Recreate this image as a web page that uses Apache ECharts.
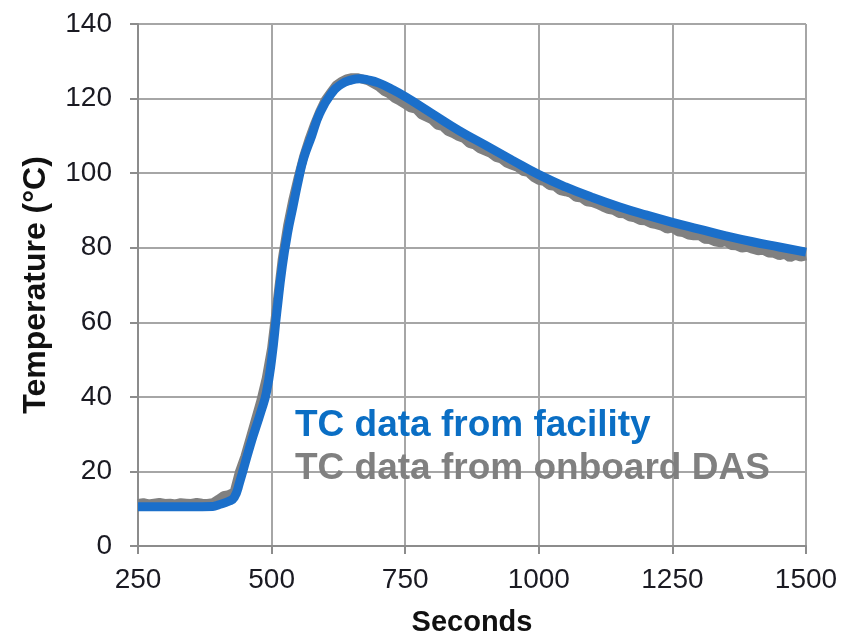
<!DOCTYPE html>
<html>
<head>
<meta charset="utf-8">
<script src="https://cdn.jsdelivr.net/npm/echarts@6/dist/echarts.min.js"></script>
<style>
  html, body { margin: 0; padding: 0; background: #fff; }
  #chart { width: 852px; height: 642px; }
</style>
</head>
<body>
<div id="chart"></div>
<script>
// TC data from facility (smooth curve)
var facility_s = [250, 300, 350, 390, 400, 420, 430, 440, 460, 480, 490, 500, 510, 520, 530, 540, 550, 560, 575, 590, 610, 630, 650, 665, 680, 700, 725, 750, 800, 850, 900, 950, 1000, 1050, 1100, 1150, 1200, 1250, 1300, 1350, 1400, 1450, 1500];
var facility_t = [10.5, 10.5, 10.5, 10.6, 11, 12, 13, 17, 27, 36, 41, 50, 63, 75, 84, 91, 98, 104, 110, 116, 121, 123.8, 125, 125.3, 125, 124.2, 122.5, 120.5, 116, 111.5, 107.5, 103.5, 99.6, 96.3, 93.5, 91, 88.8, 86.8, 85, 83.2, 81.6, 80.2, 78.8];

// TC data from onboard DAS (noisy), one reading every 10 s from 250 s
var das_start = 250;
var das_step = 10;
var das_t = [
    11.4, 11.6, 11.3, 11.5, 11.7, 11.4, 11.5, 11.3, 11.6, 11.5, 11.4, 11.7, 11.5, 11.4, 11.6,
    12.5, 13.5, 13.8, 14.5, 20, 24, 29, 34, 39, 45,
    53, 65, 77, 86, 93, 99, 104.5, 109, 113, 116.5,
    119.5, 121.5, 123.5, 124.5, 125.3, 125.6, 125.6, 125.2, 124.8, 124,
    123.2, 122, 121.3, 120.1, 119.3, 118.4, 117.5, 117.2, 115.7, 115.0,
    114.3, 112.9, 112.5, 111.2, 110.6, 109.8, 109.3, 108.0, 107.6, 106.5,
    105.9, 105.3, 104.2, 103.8, 102.7, 102.1, 101.6, 100.5, 100.2, 98.9,
    98.1, 97.8, 96.7, 96.5, 95.3, 95.0, 94.6, 93.5, 93.3, 92.3,
    92.1, 91.6, 90.9, 90.3, 90.0, 89.2, 89.1, 88.3, 88.0, 87.3,
    87.2, 86.5, 86.2, 85.8, 85.0, 85.3, 84.3, 84.1, 83.4, 83.2,
    83.3, 82.3, 82.2, 81.6, 81.3, 81.7, 80.6, 80.5, 79.9, 80.1,
    79.6, 79.2, 79.3, 78.6, 78.5, 77.9, 78.3, 77.3, 78.0, 77.5,
    77.8
];

var x_ticks = [250, 500, 750, 1000, 1250, 1500];
var y_ticks = [0, 20, 40, 60, 80, 100, 120, 140];

var font = "'Liberation Sans', Arial, sans-serif";

var facility_data = facility_s.map(function (s, i) { return [s, facility_t[i]]; });
var das_data = das_t.map(function (t, i) { return [das_start + i * das_step, t]; });

var chart = echarts.init(document.getElementById('chart'));

var option = {
    animation: false,
    backgroundColor: '#fff',
    grid: {
        left: 138,
        right: 46,
        top: 24,
        bottom: 94
    },
    legend: {
        orient: 'vertical',
        left: 290,
        top: 407,
        padding: 0,
        itemWidth: 0,
        itemHeight: 0,
        itemGap: 6,
        selectedMode: false,
        textStyle: {
            fontFamily: font,
            fontSize: 37,
            fontWeight: 'bold'
        },
        data: [
            { name: 'TC data from facility', icon: 'rect', textStyle: { color: '#0a6ec4' } },
            { name: 'TC data from onboard DAS', icon: 'rect', textStyle: { color: '#808080' } }
        ]
    },
    xAxis: {
        type: 'value',
        min: x_ticks[0],
        max: x_ticks[x_ticks.length - 1],
        interval: 250,
        name: 'Seconds',
        nameLocation: 'middle',
        nameGap: 62,
        nameTextStyle: { fontFamily: font, fontSize: 29, fontWeight: 'bold', color: '#111' },
        axisLine: { lineStyle: { color: '#8c8c8c', width: 2 } },
        axisTick: { show: true, length: 8, lineStyle: { color: '#8c8c8c', width: 2 } },
        axisLabel: {
            fontFamily: font, fontSize: 28, color: '#1a1a22', margin: 20,
            formatter: function (v) { return String(v); }
        },
        splitLine: { show: true, lineStyle: { color: '#a6a6a6', width: 2 } }
    },
    yAxis: {
        type: 'value',
        min: y_ticks[0],
        max: y_ticks[y_ticks.length - 1],
        interval: 20,
        name: 'Temperature (°C)',
        nameLocation: 'middle',
        nameGap: 86,
        nameTextStyle: { fontFamily: font, fontSize: 32, fontWeight: 'bold', color: '#111' },
        axisLine: { show: true, lineStyle: { color: '#8c8c8c', width: 2 } },
        axisTick: { show: true, length: 8, lineStyle: { color: '#8c8c8c', width: 2 } },
        axisLabel: { fontFamily: font, fontSize: 28, color: '#1a1a22', margin: 26 },
        splitLine: { show: true, lineStyle: { color: '#a6a6a6', width: 2 } }
    },
    series: [
        {
            name: 'TC data from onboard DAS',
            type: 'line',
            data: das_data,
            showSymbol: false,
            color: '#808080',
            lineStyle: { color: '#808080', width: 9 },
            z: 2
        },
        {
            name: 'TC data from facility',
            type: 'line',
            data: facility_data,
            smooth: true,
            showSymbol: false,
            color: '#1b6fca',
            lineStyle: { color: '#1b6fca', width: 9 },
            z: 3
        }
    ]
};

chart.setOption(option);
</script>
</body>
</html>
